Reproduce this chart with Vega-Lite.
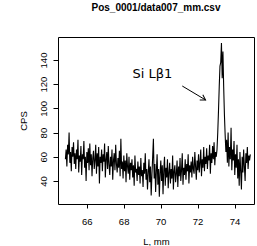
{
"$schema": "https://vega.github.io/schema/vega-lite/v6.json",
"autosize": {"type": "none"},
"padding": {"left": 58, "top": 37, "right": 3, "bottom": 42},
"width": 196,
"height": 167,
"background": "white",
"config": {
 "view": {"stroke": "#000", "strokeWidth": 1},
 "font": "Liberation Sans",
 "axis": {"domain": false, "grid": false, "tickColor": "#000", "labelFont": "Liberation Sans", "labelFontSize": 9.5, "labelColor": "#000", "titleFont": "Liberation Sans", "titleFontSize": 9.5, "titleFontWeight": "normal", "titleColor": "#000", "labelOverlap": false, "labelFlush": false},
 "axisX": {"tickSize": 4, "labelPadding": 8, "titlePadding": 11},
 "axisY": {"tickSize": 5, "labelPadding": 5, "titlePadding": 10}
},
"title": {"text": "Pos_0001/data007_mm.csv", "font": "Liberation Sans", "fontSize": 10, "fontWeight": "bold", "color": "#000", "anchor": "middle", "baseline": "alphabetic", "offset": 16},
"datasets": {
 "spectrum": [
  {"x":64.85,"y":58},{"x":64.89,"y":66},{"x":64.93,"y":52},{"x":64.97,"y":70},{"x":65.01,"y":62},{"x":65.05,"y":80},{"x":65.09,"y":55},{"x":65.13,"y":64},{"x":65.17,"y":48},{"x":65.21,"y":68},
  {"x":65.25,"y":60},{"x":65.29,"y":72},{"x":65.33,"y":54},{"x":65.37,"y":63},{"x":65.41,"y":50},{"x":65.45,"y":66},{"x":65.49,"y":58},{"x":65.53,"y":74},{"x":65.57,"y":47},{"x":65.61,"y":61},
  {"x":65.65,"y":56},{"x":65.69,"y":69},{"x":65.73,"y":45},{"x":65.77,"y":62},{"x":65.81,"y":58},{"x":65.85,"y":73},{"x":65.89,"y":51},{"x":65.93,"y":60},{"x":65.97,"y":40},{"x":66.01,"y":64},
  {"x":66.05,"y":55},{"x":66.09,"y":67},{"x":66.13,"y":49},{"x":66.17,"y":71},{"x":66.21,"y":53},{"x":66.25,"y":62},{"x":66.29,"y":44},{"x":66.33,"y":59},{"x":66.37,"y":65},{"x":66.41,"y":50},
  {"x":66.45,"y":57},{"x":66.49,"y":70},{"x":66.53,"y":46},{"x":66.57,"y":63},{"x":66.61,"y":52},{"x":66.65,"y":68},{"x":66.69,"y":38},{"x":66.73,"y":60},{"x":66.77,"y":55},{"x":66.81,"y":66},
  {"x":66.85,"y":48},{"x":66.89,"y":62},{"x":66.93,"y":56},{"x":66.97,"y":71},{"x":67.01,"y":43},{"x":67.05,"y":58},{"x":67.09,"y":64},{"x":67.13,"y":50},{"x":67.17,"y":69},{"x":67.21,"y":53},
  {"x":67.25,"y":45},{"x":67.29,"y":60},{"x":67.33,"y":52},{"x":67.37,"y":66},{"x":67.41,"y":41},{"x":67.45,"y":57},{"x":67.49,"y":63},{"x":67.53,"y":49},{"x":67.57,"y":70},{"x":67.61,"y":54},
  {"x":67.65,"y":47},{"x":67.69,"y":59},{"x":67.73,"y":51},{"x":67.77,"y":65},{"x":67.81,"y":44},{"x":67.85,"y":75},{"x":67.89,"y":50},{"x":67.93,"y":56},{"x":67.97,"y":42},{"x":68.01,"y":61},
  {"x":68.05,"y":48},{"x":68.09,"y":57},{"x":68.13,"y":39},{"x":68.17,"y":63},{"x":68.21,"y":52},{"x":68.25,"y":46},{"x":68.29,"y":60},{"x":68.33,"y":41},{"x":68.37,"y":55},{"x":68.41,"y":49},
  {"x":68.45,"y":58},{"x":68.49,"y":43},{"x":68.53,"y":53},{"x":68.57,"y":36},{"x":68.61,"y":61},{"x":68.65,"y":47},{"x":68.69,"y":50},{"x":68.73,"y":40},{"x":68.77,"y":56},{"x":68.81,"y":45},
  {"x":68.85,"y":52},{"x":68.89,"y":38},{"x":68.93,"y":59},{"x":68.97,"y":44},{"x":69.01,"y":49},{"x":69.05,"y":35},{"x":69.09,"y":55},{"x":69.13,"y":46},{"x":69.17,"y":63},{"x":69.21,"y":41},
  {"x":69.25,"y":50},{"x":69.29,"y":33},{"x":69.33,"y":47},{"x":69.37,"y":58},{"x":69.41,"y":39},{"x":69.45,"y":52},{"x":69.49,"y":28},{"x":69.53,"y":45},{"x":69.57,"y":60},{"x":69.61,"y":75},
  {"x":69.65,"y":42},{"x":69.69,"y":54},{"x":69.73,"y":31},{"x":69.77,"y":48},{"x":69.81,"y":62},{"x":69.85,"y":37},{"x":69.89,"y":50},{"x":69.93,"y":27},{"x":69.97,"y":46},{"x":70.01,"y":57},
  {"x":70.05,"y":40},{"x":70.09,"y":53},{"x":70.13,"y":29},{"x":70.17,"y":49},{"x":70.21,"y":60},{"x":70.25,"y":36},{"x":70.29,"y":51},{"x":70.33,"y":43},{"x":70.37,"y":58},{"x":70.41,"y":34},
  {"x":70.45,"y":47},{"x":70.49,"y":55},{"x":70.53,"y":38},{"x":70.57,"y":50},{"x":70.61,"y":42},{"x":70.65,"y":61},{"x":70.69,"y":33},{"x":70.73,"y":48},{"x":70.77,"y":53},{"x":70.81,"y":39},
  {"x":70.85,"y":46},{"x":70.89,"y":57},{"x":70.93,"y":35},{"x":70.97,"y":52},{"x":71.01,"y":44},{"x":71.05,"y":59},{"x":71.09,"y":40},{"x":71.13,"y":49},{"x":71.17,"y":63},{"x":71.21,"y":37},
  {"x":71.25,"y":51},{"x":71.29,"y":45},{"x":71.33,"y":58},{"x":71.37,"y":41},{"x":71.41,"y":54},{"x":71.45,"y":48},{"x":71.49,"y":62},{"x":71.53,"y":38},{"x":71.57,"y":53},{"x":71.61,"y":47},
  {"x":71.65,"y":56},{"x":71.69,"y":43},{"x":71.73,"y":60},{"x":71.77,"y":50},{"x":71.81,"y":46},{"x":71.85,"y":64},{"x":71.89,"y":52},{"x":71.93,"y":41},{"x":71.97,"y":57},{"x":72.01,"y":49},
  {"x":72.05,"y":62},{"x":72.09,"y":47},{"x":72.13,"y":55},{"x":72.17,"y":66},{"x":72.21,"y":44},{"x":72.25,"y":58},{"x":72.29,"y":51},{"x":72.33,"y":68},{"x":72.37,"y":48},{"x":72.41,"y":60},
  {"x":72.45,"y":54},{"x":72.49,"y":67},{"x":72.53,"y":50},{"x":72.57,"y":61},{"x":72.61,"y":57},{"x":72.65,"y":70},{"x":72.69,"y":46},{"x":72.73,"y":63},{"x":72.77,"y":55},{"x":72.81,"y":69},
  {"x":72.85,"y":58},{"x":72.89,"y":72},{"x":72.93,"y":53},{"x":72.97,"y":64},{"x":73.01,"y":60},{"x":73.05,"y":66},{"x":73.09,"y":80},{"x":73.13,"y":98},{"x":73.17,"y":118},{"x":73.21,"y":135},
  {"x":73.25,"y":138},{"x":73.29,"y":154},{"x":73.33,"y":125},{"x":73.37,"y":147},{"x":73.41,"y":118},{"x":73.45,"y":95},{"x":73.49,"y":78},{"x":73.53,"y":64},{"x":73.57,"y":74},{"x":73.61,"y":55},
  {"x":73.65,"y":80},{"x":73.69,"y":52},{"x":73.73,"y":68},{"x":73.77,"y":58},{"x":73.81,"y":84},{"x":73.85,"y":49},{"x":73.89,"y":66},{"x":73.93,"y":57},{"x":73.97,"y":73},{"x":74.01,"y":45},
  {"x":74.05,"y":62},{"x":74.09,"y":51},{"x":74.13,"y":70},{"x":74.17,"y":42},{"x":74.21,"y":58},{"x":74.25,"y":36},{"x":74.29,"y":64},{"x":74.33,"y":48},{"x":74.37,"y":33},{"x":74.41,"y":60},
  {"x":74.45,"y":47},{"x":74.49,"y":66},{"x":74.53,"y":52},{"x":74.57,"y":40},{"x":74.61,"y":63},{"x":74.65,"y":55},{"x":74.69,"y":68},{"x":74.73,"y":50},{"x":74.77,"y":61},{"x":74.81,"y":57},
  {"x":74.85,"y":62}
 ],
 "label": [{"x": 69.55, "y": 125.4, "text": "Si Lβ1"}],
 "arrow": [{"x": 71.17, "y": 118.5, "x2": 72.43, "y2": 107}]
},
"layer": [
 {"data": {"name": "spectrum"},
  "mark": {"type": "line", "color": "#000", "strokeWidth": 1.1, "clip": true},
  "encoding": {
   "x": {"field": "x", "type": "quantitative", "scale": {"domain": [64.45, 75.05], "nice": false, "zero": false}, "axis": {"values": [66, 68, 70, 72, 74], "title": "L, mm", "labelOverlap": false}},
   "y": {"field": "y", "type": "quantitative", "scale": {"domain": [21, 159], "nice": false, "zero": false}, "axis": {"values": [40, 60, 80, 100, 120, 140], "title": "CPS", "labelAngle": -90, "labelOverlap": false, "labelAlign": "center", "labelBaseline": "bottom", "tickCount": 6}}
  }},
 {"data": {"name": "arrow"},
  "mark": {"type": "rule", "color": "#000", "strokeWidth": 1},
  "encoding": {
   "x": {"field": "x", "type": "quantitative"},
   "y": {"field": "y", "type": "quantitative"},
   "x2": {"field": "x2"},
   "y2": {"field": "y2"}
  }},
 {"data": {"name": "arrow"},
  "mark": {"type": "point", "shape": "M-1,-0.6L0,0L-1,0.6", "angle": 31, "filled": false, "color": "#000", "strokeWidth": 1, "size": 100, "opacity": 1},
  "encoding": {
   "x": {"field": "x2", "type": "quantitative"},
   "y": {"field": "y2", "type": "quantitative"}
  }},
 {"data": {"name": "label"},
  "mark": {"type": "text", "font": "DejaVu Sans", "fontSize": 13, "align": "center", "baseline": "alphabetic", "color": "#000"},
  "encoding": {
   "x": {"field": "x", "type": "quantitative"},
   "y": {"field": "y", "type": "quantitative"},
   "text": {"field": "text"}
  }}
]
}
